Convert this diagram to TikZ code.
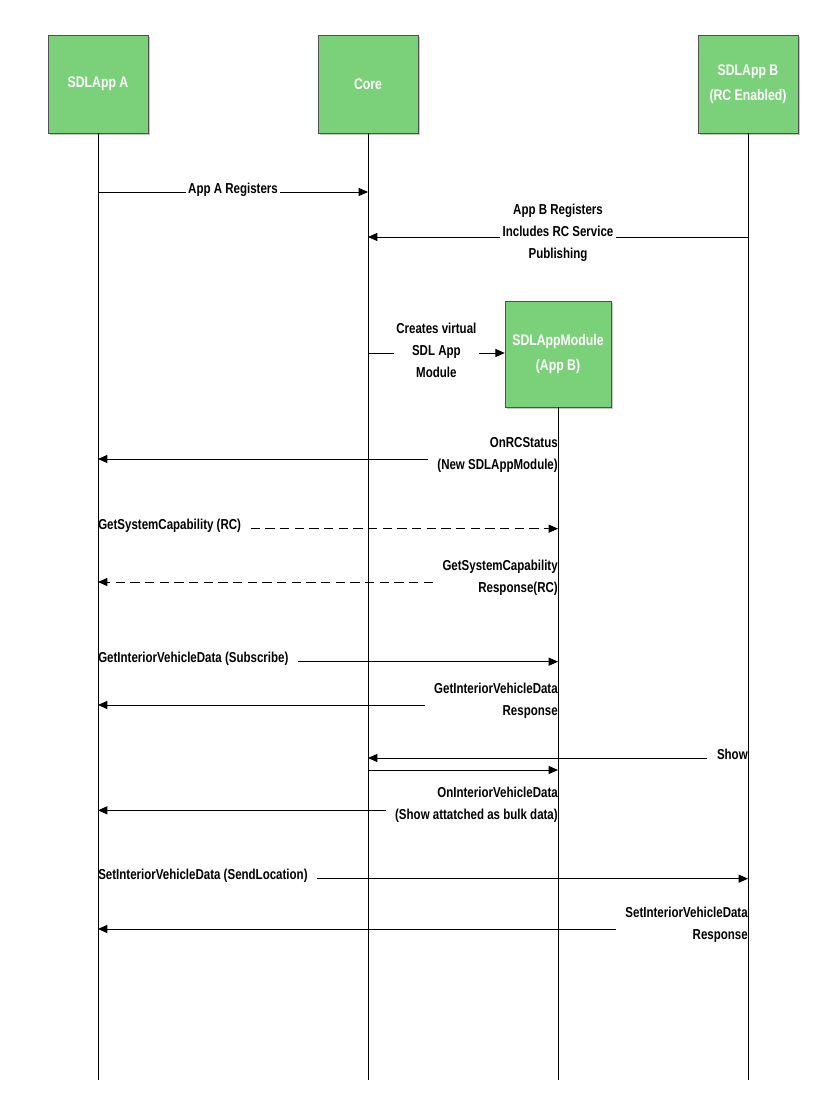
\documentclass[tikz,border=0pt]{standalone}
\usepackage{fontspec}
\setmainfont{Liberation Sans}[FakeStretch=0.8]
\usetikzlibrary{arrows.meta, positioning, shadows}
\definecolor{boxcolor}{RGB}{122,209,122}
\definecolor{bordercolor}{RGB}{80,80,80}

\begin{document}
\begin{tikzpicture}[
    x=0.75pt, y=-0.75pt,
    actor/.style={rectangle, draw=bordercolor, fill=boxcolor, minimum width=75pt, minimum height=73.5pt, align=center, text=white, font=\fontsize{11.5}{18.5}\selectfont\bfseries, drop shadow={shadow xshift=1.2pt, shadow yshift=-1.2pt, opacity=0.45}},
    lbl/.style={font=\fontsize{10.8}{16.5}\selectfont\bfseries, align=center, inner sep=0pt},
    lblr/.style={lbl, align=right, anchor=east},
    lbll/.style={lbl, align=left, anchor=west},
    life/.style={line width=0.75pt},
    arrow/.style={-{Triangle[length=7pt, width=6pt]}, line width=0.75pt},
    dasharrow/.style={arrow, dash pattern=on 7pt off 4pt}
]
\useasboundingbox (0,0) rectangle (823,1120);

% Participants
\node[actor] (appa) at (98,84) {SDLApp A};
\node[actor] (core) at (368,84) {Core};
\node[actor] (appb) at (748,84) {SDLApp B\\(RC Enabled)};
\node[actor, minimum width=79.5pt, minimum height=79.5pt] (mod) at (558,354) {SDLAppModule\\(App B)};

% Lifelines
\coordinate (bot) at (0,1080);
\draw[life] (appa.south) -- (appa.south |- bot);
\draw[life] (core.south) -- (core.south |- bot);
\draw[life] (appb.south) -- (appb.south |- bot);
\draw[life] (mod.south) -- (mod.south |- bot);

% Registration
\coordinate (r1) at (0,192);
\coordinate (r2) at (0,237);
\coordinate (r3) at (0,353);
\draw[arrow] (appa |- r1) -- node[lbl, fill=white, inner sep=2pt, yshift=2pt] {App A Registers} (core |- r1);
\draw[arrow] (appb |- r2) -- node[lbl, fill=white, inner sep=2pt, yshift=3pt] {App B Registers\\Includes RC Service\\Publishing} (core |- r2);
\draw[arrow] (core |- r3) -- node[lbl, fill=white, inner sep=2pt, yshift=2pt] {Creates virtual\\SDL App\\Module} (mod.west |- r3);

% OnRCStatus
\node[lblr] (onrc) at (558,455) {OnRCStatus\\(New SDLAppModule)};
\draw[arrow] ([xshift=-7pt, yshift=-3pt]onrc.west) -- ([yshift=-3pt]onrc.west -| appa);

% GetSystemCapability
\node[lbll] (gsc) at (98,526) {GetSystemCapability (RC)};
\draw[dasharrow] ([xshift=7pt, yshift=-2pt]gsc.east) -- ([yshift=-2pt]gsc.east -| mod);
\node[lblr] (gscr) at (558,578) {GetSystemCapability\\Response(RC)};
\draw[dasharrow] ([xshift=-7pt, yshift=-3pt]gscr.west) -- ([yshift=-3pt]gscr.west -| appa);

% GetInteriorVehicleData
\node[lbll] (givd) at (98,659) {GetInteriorVehicleData (Subscribe)};
\draw[arrow] ([xshift=7pt, yshift=-2pt]givd.east) -- ([yshift=-2pt]givd.east -| mod);
\node[lblr] (givdr) at (558,701) {GetInteriorVehicleData\\Response};
\draw[arrow] ([xshift=-7pt, yshift=-3pt]givdr.west) -- ([yshift=-3pt]givdr.west -| appa);

% Show
\node[lblr] (show) at (748,754) {Show};
\draw[arrow] ([xshift=-7pt, yshift=-3pt]show.west) -- ([yshift=-3pt]show.west -| core);
\coordinate (r11) at (0,770);
\draw[arrow] (core |- r11) -- (mod |- r11);
\node[lblr] (oivd) at (558,805) {OnInteriorVehicleData\\(Show attatched as bulk data)};
\draw[arrow] ([xshift=-7pt, yshift=-4pt]oivd.west) -- ([yshift=-4pt]oivd.west -| appa);

% SetInteriorVehicleData
\node[lbll] (sivd) at (98,876) {SetInteriorVehicleData (SendLocation)};
\draw[arrow] ([xshift=7pt, yshift=-2pt]sivd.east) -- ([yshift=-2pt]sivd.east -| appb);
\node[lblr] (sivdr) at (748,925) {SetInteriorVehicleData\\Response};
\draw[arrow] ([xshift=-7pt, yshift=-3pt]sivdr.west) -- ([yshift=-3pt]sivdr.west -| appa);

\end{tikzpicture}
\end{document}
